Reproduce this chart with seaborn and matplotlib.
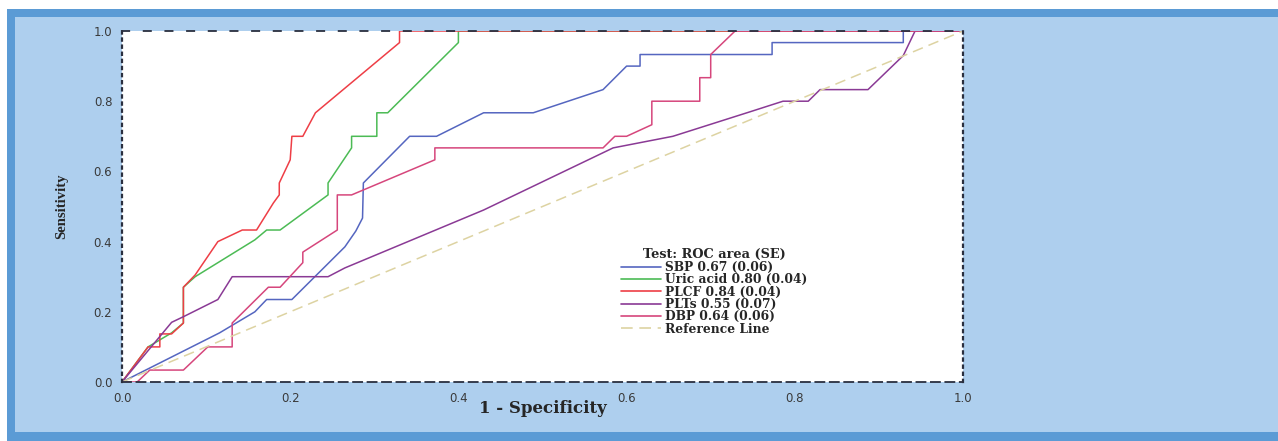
import numpy as np
import pandas as pd
import matplotlib
matplotlib.use("Agg")
import matplotlib.pyplot as plt
from matplotlib.patches import Rectangle
from matplotlib.lines import Line2D
import seaborn as sns

# ROC curve points (1 - specificity, sensitivity)
sbp_x = [0, 0.116, 0.158, 0.172, 0.202, 0.265, 0.278, 0.286, 0.287, 0.342, 0.374, 0.43, 0.489,
         0.572, 0.60, 0.616, 0.616, 0.773, 0.773, 0.929, 0.929, 1.0]
sbp_y = [0, 0.14, 0.20, 0.235, 0.235, 0.385, 0.43, 0.467, 0.567, 0.70, 0.70, 0.767, 0.767,
         0.833, 0.90, 0.90, 0.933, 0.933, 0.967, 0.967, 1.0, 1.0]

uric_x = [0, 0.031, 0.045, 0.059, 0.073, 0.073, 0.087, 0.158, 0.172, 0.188, 0.245, 0.245,
          0.273, 0.273, 0.303, 0.303, 0.316, 0.40, 0.40, 1.0]
uric_y = [0, 0.10, 0.12, 0.14, 0.168, 0.27, 0.30, 0.405, 0.433, 0.433, 0.533, 0.567,
          0.667, 0.70, 0.70, 0.767, 0.767, 0.967, 1.0, 1.0]

plcf_x = [0, 0.031, 0.045, 0.045, 0.059, 0.073, 0.073, 0.087, 0.114, 0.143, 0.16, 0.18,
          0.187, 0.187, 0.20, 0.202, 0.215, 0.23, 0.33, 0.33, 1.0]
plcf_y = [0, 0.10, 0.10, 0.137, 0.137, 0.168, 0.27, 0.305, 0.40, 0.433, 0.433, 0.51,
          0.533, 0.567, 0.633, 0.70, 0.70, 0.767, 0.967, 1.0, 1.0]

plts_x = [0, 0.059, 0.073, 0.114, 0.131, 0.245, 0.265, 0.43, 0.584, 0.655, 0.747, 0.786,
          0.816, 0.83, 0.887, 0.929, 0.943, 1.0]
plts_y = [0, 0.17, 0.186, 0.235, 0.30, 0.30, 0.325, 0.49, 0.667, 0.70, 0.77, 0.80,
          0.80, 0.833, 0.833, 0.93, 1.0, 1.0]

dbp_x = [0, 0.018, 0.033, 0.073, 0.102, 0.131, 0.131, 0.174, 0.188, 0.215, 0.215, 0.256,
         0.256, 0.273, 0.372, 0.372, 0.572, 0.586, 0.60, 0.63, 0.63, 0.687, 0.687, 0.70,
         0.70, 0.729, 1.0]
dbp_y = [0, 0, 0.034, 0.034, 0.10, 0.10, 0.168, 0.27, 0.27, 0.34, 0.37, 0.433,
         0.533, 0.533, 0.633, 0.667, 0.667, 0.70, 0.70, 0.733, 0.80, 0.80, 0.867, 0.867,
         0.933, 1.0, 1.0]

ref_x = [0, 1]
ref_y = [0, 1]

tests = ["SBP", "Uric acid", "PLCF", "PLTs", "DBP"]
labels = ["SBP 0.67 (0.06)", "Uric acid 0.80 (0.04)", "PLCF 0.84 (0.04)",
          "PLTs 0.55 (0.07)", "DBP 0.64 (0.06)"]
colors = ["#5566c0", "#4cbb55", "#ee3e46", "#8a3a95", "#d6467c"]
ticks = [0.0, 0.2, 0.4, 0.6, 0.8, 1.0]

frames = []
for name, xs, ys in zip(tests, [sbp_x, uric_x, plcf_x, plts_x, dbp_x],
                        [sbp_y, uric_y, plcf_y, plts_y, dbp_y]):
    frames.append(pd.DataFrame({"fpr": xs, "tpr": ys, "test": name}))
df = pd.concat(frames, ignore_index=True)

sns.set_style("white")

W, H = 1278, 441
fig = plt.figure(figsize=(W / 100, H / 100), dpi=100)
fig.patch.set_facecolor("white")
# blue frame and light blue panel behind the chart
fig.patches.append(Rectangle((7 / W, 0), 1, 1 - 9 / H, transform=fig.transFigure,
                             facecolor="#5b9bd5", edgecolor="none", zorder=-2))
fig.patches.append(Rectangle((15 / W, 9 / H), 1, 1 - 26 / H, transform=fig.transFigure,
                             facecolor="#aecfee", edgecolor="none", zorder=-1))

ax = fig.add_axes([122 / W, 59 / H, 841 / W, 351 / H])
ax.set_facecolor("white")

sns.lineplot(data=df, x="fpr", y="tpr", hue="test", hue_order=tests,
             palette=dict(zip(tests, colors)), estimator=None, sort=False,
             linewidth=1.1, legend=False, ax=ax)
ax.plot(ref_x, ref_y, color="#ddd3a2", linewidth=1.1, dashes=(7, 4))

ax.set_xlim(0, 1)
ax.set_ylim(0, 1)
ax.set_xticks(ticks)
ax.set_yticks(ticks)
ax.set_xticklabels([f"{t:.1f}" for t in ticks], fontsize=8.5, color="#3a3a3a")
ax.set_yticklabels([f"{t:.1f}" for t in ticks], fontsize=8.5, color="#3a3a3a")
ax.tick_params(direction="out", length=6, width=1.2, color="#222222", pad=1)

for side in ["left", "right"]:
    ax.spines[side].set_linestyle((0, (1, 2.2)))
    ax.spines[side].set_linewidth(1.6)
    ax.spines[side].set_color("#2a2f3f")
ax.spines["top"].set_linestyle((0, (4, 8)))
ax.spines["top"].set_linewidth(1.3)
ax.spines["top"].set_color("#2a2f3f")
ax.spines["bottom"].set_linestyle((0, (5, 3)))
ax.spines["bottom"].set_linewidth(1.3)
ax.spines["bottom"].set_color("#2a2f3f")

ax.set_xlabel("1 - Specificity", fontsize=12, fontweight="bold",
              family=["DejaVu Serif"])
ax.xaxis.set_label_coords(0.5, -0.05)
ax.set_ylabel("Sensitivity", fontsize=10.5, fontweight="bold",
              family=["Liberation Serif"])
ax.yaxis.set_label_coords(-0.064, 0.5)

handles = [Line2D([], [], color=c, linewidth=1.2) for c in colors]
handles.append(Line2D([], [], color="#ddd3a2", linewidth=1.2, dashes=(7, 4)))
leg = ax.legend(handles, labels + ["Reference Line"], title="Test: ROC area (SE)",
                loc="upper left", bbox_to_anchor=(0.583, 0.405), frameon=False,
                prop={"family": "DejaVu Serif", "weight": "bold", "size": 8.8},
                title_fontproperties={"family": "DejaVu Serif", "weight": "bold", "size": 9.3},
                handlelength=3.3, handletextpad=0.3, labelspacing=-0.05, borderpad=0.2)

fig.savefig("out.png", dpi=100, facecolor=fig.get_facecolor())
